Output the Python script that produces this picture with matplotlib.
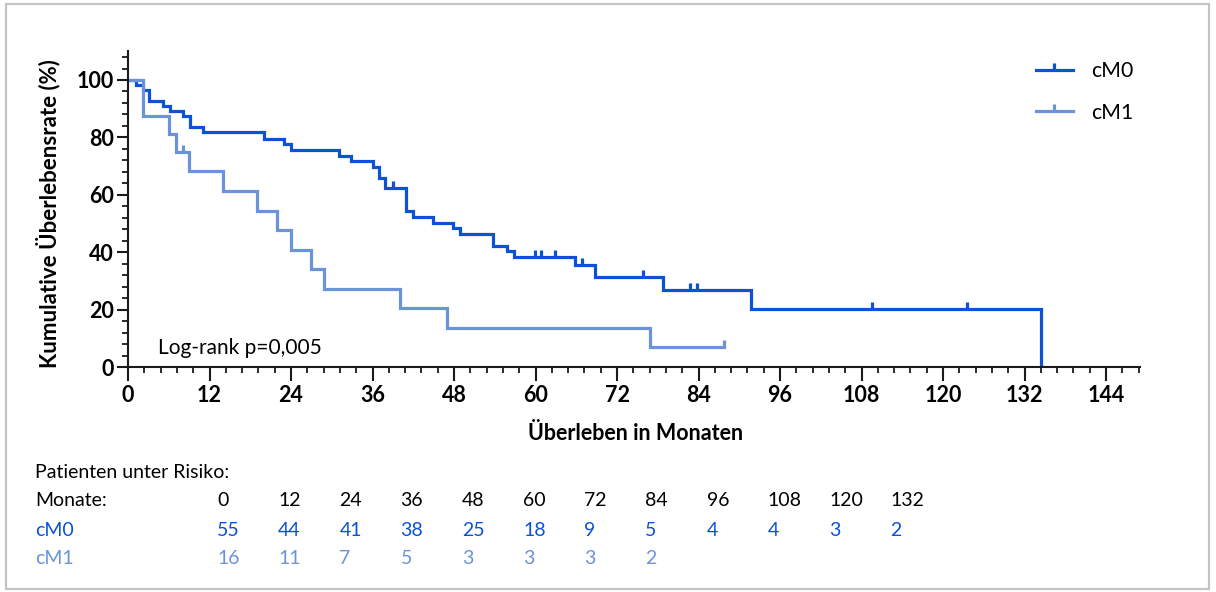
import numpy as np
import matplotlib
matplotlib.use("Agg")
import matplotlib.pyplot as plt
from matplotlib.path import Path
from matplotlib.patches import Rectangle
from matplotlib.ticker import MultipleLocator

plt.rcParams['font.family'] = ['Lato', 'DejaVu Sans']

# Kaplan-Meier steps (months, survival %)
cm0_times = [0, 1.2, 2.2, 3.1, 5.1, 6.2, 8.1, 9.1, 11.1, 20.0, 23.0, 24.0, 31.0, 32.9,
             36.0, 37.0, 37.9, 40.9, 41.9, 44.9, 47.9, 48.9, 53.8, 55.8, 56.9, 65.8,
             68.8, 78.7, 91.7, 134.4]
cm0_surv = [100, 98.2, 96.4, 92.7, 90.9, 89.1, 87.3, 83.6, 81.8, 79.6, 77.6, 75.6, 73.6, 71.8,
            69.8, 66.0, 62.3, 54.4, 52.4, 50.3, 48.3, 46.2, 42.3, 40.4, 38.2, 35.4,
            31.3, 26.8, 20.2, 0]
cm0_cens_t = [39.0, 59.9, 60.8, 62.9, 66.8, 75.8, 82.8, 83.8, 109.5, 123.5]
cm0_cens_s = [62.3, 38.2, 38.2, 38.2, 35.4, 31.3, 26.8, 26.8, 20.2, 20.2]

cm1_times = [0, 2.2, 6.1, 7.1, 9.0, 14.0, 19.0, 22.0, 24.0, 27.0, 28.9, 40.0, 47.0, 76.8, 87.8]
cm1_surv = [100, 87.5, 81.25, 75.0, 68.2, 61.4, 54.5, 47.7, 40.9, 34.1, 27.3, 20.5, 13.6, 6.8, 6.8]
cm1_cens_t = [8.1, 87.8]
cm1_cens_s = [75.0, 6.8]

# Patients at risk
risk_months = [0, 12, 24, 36, 48, 60, 72, 84, 96, 108, 120, 132]
risk_cm0 = [55, 44, 41, 38, 25, 18, 9, 5, 4, 4, 3, 2]
risk_cm1 = [16, 11, 7, 5, 3, 3, 3, 2]

c_m0 = '#0B52D4'
c_m1 = '#6B93D8'
W, H = 1216, 592
tab_fs = 14


def fx(x):
    return x / W


def fy(y):
    return 1 - y / H


# censor mark: short tick going up from the curve
tick_up = Path([(0, 0), (0, 1)])

fig = plt.figure(figsize=(W / 100, H / 100), dpi=100)
fig.patches.append(Rectangle((fx(6), fy(589)), fx(1209) - fx(6), fy(4) - fy(589),
                             transform=fig.transFigure, fill=False,
                             edgecolor='#c4c4c4', lw=1.6))

ax = fig.add_axes([fx(128), fy(367), fx(1140) - fx(128), fy(51.3) - fy(367)])

ax.step(cm0_times, cm0_surv, where='post', color=c_m0, lw=2.3, solid_joinstyle='miter')
ax.step(cm1_times, cm1_surv, where='post', color=c_m1, lw=2.3, solid_joinstyle='miter')
ax.plot(cm0_cens_t, cm0_cens_s, ls='none', marker=tick_up, ms=10, mew=2.3, color=c_m0)
ax.plot(cm1_cens_t, cm1_cens_s, ls='none', marker=tick_up, ms=10, mew=2.3, color=c_m1)

# legend handles
h0, = ax.plot([], [], color=c_m0, lw=2.3, marker=tick_up, ms=10, mew=2.3)
h1, = ax.plot([], [], color=c_m1, lw=2.3, marker=tick_up, ms=10, mew=2.3)
leg = fig.legend([h0, h1], ['cM0', 'cM1'], loc='upper left',
                 bbox_to_anchor=(fx(1036), fy(61)), frameon=False, fontsize=15.3,
                 handlelength=1.73, handletextpad=0.85, labelspacing=1.03,
                 borderpad=0, borderaxespad=0)

ax.set_xlim(0, 149)
ax.set_ylim(0, 110)
ax.set_xticks(range(0, 145, 12))
ax.set_yticks(range(0, 101, 20))
ax.xaxis.set_minor_locator(MultipleLocator(2.4))
ax.yaxis.set_minor_locator(MultipleLocator(4))
for s in ['top', 'right']:
    ax.spines[s].set_visible(False)
for s in ['left', 'bottom']:
    ax.spines[s].set_linewidth(1.5)
    ax.spines[s].set_color('#1a1a1a')
ax.tick_params(which='major', length=8, width=1.5, color='#1a1a1a', labelsize=15.5)
ax.tick_params(which='minor', length=4.5, width=1.3, color='#1a1a1a')
ax.tick_params(axis='x', which='major', length=10, pad=3)
ax.tick_params(axis='y', which='major', pad=2)
for lab in ax.get_xticklabels() + ax.get_yticklabels():
    lab.set_fontweight('bold')

fig.text(fx(636), fy(433), 'Überleben in Monaten', ha='center', va='center',
         fontsize=15.5, fontweight='bold')
fig.text(fx(48), fy(214), 'Kumulative Überlebensrate (%)', ha='center', va='center',
         rotation=90, fontsize=16, fontweight='bold')

ax.text(4.4, 6.6, 'Log-rank p=0,005', ha='left', va='center', fontsize=15)

# at-risk table
fig.text(fx(35), fy(472), 'Patienten unter Risiko:', ha='left', va='center', fontsize=tab_fs)
fig.text(fx(35), fy(501), 'Monate:', ha='left', va='center', fontsize=tab_fs)
fig.text(fx(35), fy(530), 'cM0', ha='left', va='center', fontsize=tab_fs, color=c_m0)
fig.text(fx(35), fy(558), 'cM1', ha='left', va='center', fontsize=tab_fs, color=c_m1)
for i, m in enumerate(risk_months):
    x0 = fx(217 + 61.2 * i)
    fig.text(x0, fy(501), str(m), ha='left', va='center', fontsize=tab_fs)
    fig.text(x0, fy(530), str(risk_cm0[i]), ha='left', va='center', fontsize=tab_fs, color=c_m0)
    if i < len(risk_cm1):
        fig.text(x0, fy(558), str(risk_cm1[i]), ha='left', va='center', fontsize=tab_fs, color=c_m1)

fig.savefig('out.png', dpi=100)
